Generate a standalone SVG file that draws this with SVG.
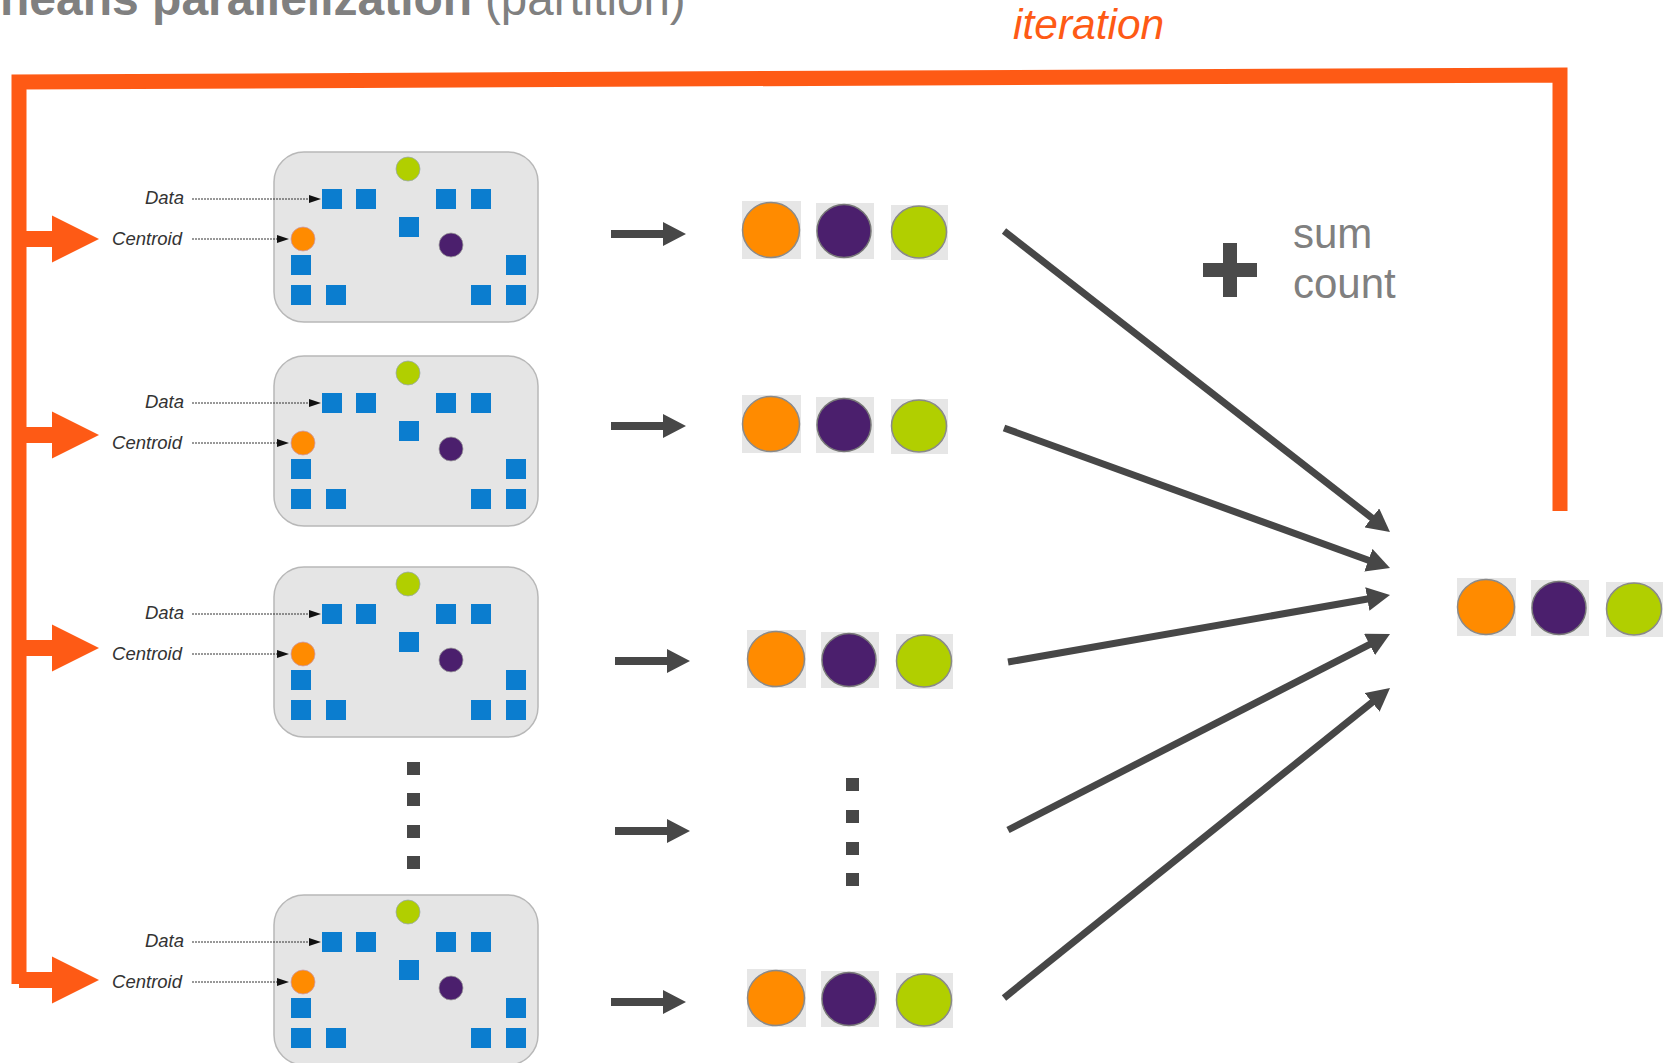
<svg xmlns="http://www.w3.org/2000/svg" xmlns:xlink="http://www.w3.org/1999/xlink" width="1671" height="1063" viewBox="0 0 1671 1063">
<style>
.title{font-family:"Liberation Sans",Arial,sans-serif;fill:#808080}
.lbl{font-family:"Liberation Sans",Arial,sans-serif;font-style:italic;font-size:18.5px;fill:#333;text-anchor:end}
.sq{fill:#0b7dcf}
.dot{stroke:#333;stroke-width:1;stroke-dasharray:2 1;fill:none}
.loop{fill:none;stroke:#fe5a15;stroke-width:15;stroke-linejoin:miter}
.oarrow{fill:#fe5a15}
.garrow{fill:#474747}
.big{stroke:#474747;stroke-width:7;fill:none}
.bg{fill:#e6e6e6}
.vd{fill:#474747}
.sc{font-family:"Liberation Sans",Arial,sans-serif;font-size:42px;fill:#808080}
</style>
<defs>
<marker id="ah" markerUnits="userSpaceOnUse" markerWidth="24" markerHeight="24" viewBox="0 0 24 24" refX="3" refY="12" orient="auto">
<path d="M0 0 L23 12 L0 24 Z" fill="#474747"/>
</marker>
<g id="box">
<rect x="0" y="0" width="264" height="170" rx="30" ry="30" fill="#e5e5e5" stroke="#b8b8b8" stroke-width="1.5"/>
<circle cx="134" cy="17" r="12" fill="#b1cf00" stroke="#9aa" stroke-width="0.8"/>
<rect class="sq" x="48" y="37" width="20" height="20"/>
<rect class="sq" x="82" y="37" width="20" height="20"/>
<rect class="sq" x="162" y="37" width="20" height="20"/>
<rect class="sq" x="197" y="37" width="20" height="20"/>
<rect class="sq" x="125" y="65" width="20" height="20"/>
<rect class="sq" x="17" y="103" width="20" height="20"/>
<rect class="sq" x="232" y="103" width="20" height="20"/>
<rect class="sq" x="17" y="133" width="20" height="20"/>
<rect class="sq" x="52" y="133" width="20" height="20"/>
<rect class="sq" x="197" y="133" width="20" height="20"/>
<rect class="sq" x="232" y="133" width="20" height="20"/>
<circle cx="29" cy="87" r="12" fill="#ff8b00" stroke="#c9a" stroke-width="0.8"/>
<circle cx="177" cy="93" r="12" fill="#4b1f6d" stroke="#999" stroke-width="0.8"/>
<text class="lbl" x="-90" y="52">Data</text>
<text class="lbl" x="-92" y="93">Centroid</text>
<line class="dot" x1="-82" y1="47" x2="36" y2="47"/>
<path d="M47 47 L35 43 L35 51 Z" fill="#111"/>
<line class="dot" x1="-82" y1="87" x2="4" y2="87"/>
<path d="M15 87 L3 83 L3 91 Z" fill="#111"/>
</g>
<g id="trip">
<rect class="bg" x="-29" y="-29" width="59" height="58"/>
<ellipse cx="0" cy="0" rx="28.5" ry="27.5" fill="#ff8b00" stroke="#8a8a8a" stroke-width="1.5"/>
<rect class="bg" x="45" y="-27" width="58" height="56"/>
<ellipse cx="73" cy="1" rx="27" ry="26.5" fill="#4b1f6d" stroke="#777" stroke-width="1.5"/>
<rect class="bg" x="120" y="-25" width="57" height="55"/>
<ellipse cx="148" cy="2" rx="27.5" ry="26" fill="#b1cf00" stroke="#8a8a8a" stroke-width="1.5"/>
</g>
<path id="sarrow" d="M0 -4 H52 V-12 L75 0 L52 12 V4 H0 Z"/>
<path id="oarr" d="M19 -8 H52 V-23.5 L99 0 L52 23.5 V8 H19 Z"/>
</defs>

<g id="title">
<text class="title" x="0" y="15" font-size="48" font-weight="bold">neans parallelization</text>
<text class="title" x="485" y="15" font-size="47.5">(partition)</text>
</g>
<g id="iteration-label">
<text x="1013" y="39" font-family="'Liberation Sans',Arial,sans-serif" font-style="italic" font-size="42.5" fill="#fe5a15">iteration</text>
</g>

<g id="partition-1"><use xlink:href="#box" transform="translate(274,152)"/></g>
<g id="partition-2"><use xlink:href="#box" transform="translate(274,356)"/></g>
<g id="partition-3"><use xlink:href="#box" transform="translate(274,567)"/></g>
<g id="partition-n"><use xlink:href="#box" transform="translate(274,895)"/></g>

<g id="partition-ellipsis">
<rect class="vd" x="407" y="762" width="13" height="13"/>
<rect class="vd" x="407" y="793" width="13" height="13"/>
<rect class="vd" x="407" y="825" width="13" height="13"/>
<rect class="vd" x="407" y="856" width="13" height="13"/>
</g>
<g id="result-ellipsis">
<rect class="vd" x="846" y="778" width="13" height="13"/>
<rect class="vd" x="846" y="810" width="13" height="13"/>
<rect class="vd" x="846" y="842" width="13" height="13"/>
<rect class="vd" x="846" y="873" width="13" height="13"/>
</g>

<g id="result-1"><use xlink:href="#trip" transform="translate(771,230)"/></g>
<g id="result-2"><use xlink:href="#trip" transform="translate(771,424)"/></g>
<g id="result-3"><use xlink:href="#trip" transform="translate(776,659)"/></g>
<g id="result-n"><use xlink:href="#trip" transform="translate(776,998)"/></g>
<g id="final-centroids"><use xlink:href="#trip" transform="translate(1486,607)"/></g>

<g id="sum-count">
<rect x="1203" y="263" width="54" height="14" fill="#4a4a4a"/>
<rect x="1223" y="243" width="14" height="54" fill="#4a4a4a"/>
<text class="sc" x="1293" y="248">sum</text>
<text class="sc" x="1293" y="298">count</text>
</g>

<g id="connectors">
<path class="loop" d="M1560 511 L1560 75 L19 82 L19 984"/>
<use class="oarrow" xlink:href="#oarr" transform="translate(0,239)"/>
<use class="oarrow" xlink:href="#oarr" transform="translate(0,435)"/>
<use class="oarrow" xlink:href="#oarr" transform="translate(0,648)"/>
<use class="oarrow" xlink:href="#oarr" transform="translate(0,980)"/>
<use class="garrow" xlink:href="#sarrow" transform="translate(611,234)"/>
<use class="garrow" xlink:href="#sarrow" transform="translate(611,426)"/>
<use class="garrow" xlink:href="#sarrow" transform="translate(615,661)"/>
<use class="garrow" xlink:href="#sarrow" transform="translate(615,831)"/>
<use class="garrow" xlink:href="#sarrow" transform="translate(611,1002)"/>
<line class="big" x1="1004" y1="231" x2="1374.2" y2="519.7" marker-end="url(#ah)"/>
<line class="big" x1="1004" y1="428" x2="1371.2" y2="561.2" marker-end="url(#ah)"/>
<line class="big" x1="1008" y1="662" x2="1370.3" y2="598.5" marker-end="url(#ah)"/>
<line class="big" x1="1008" y1="830" x2="1372.2" y2="643.1" marker-end="url(#ah)"/>
<line class="big" x1="1004" y1="998" x2="1374.4" y2="700.5" marker-end="url(#ah)"/>
</g>
</svg>
